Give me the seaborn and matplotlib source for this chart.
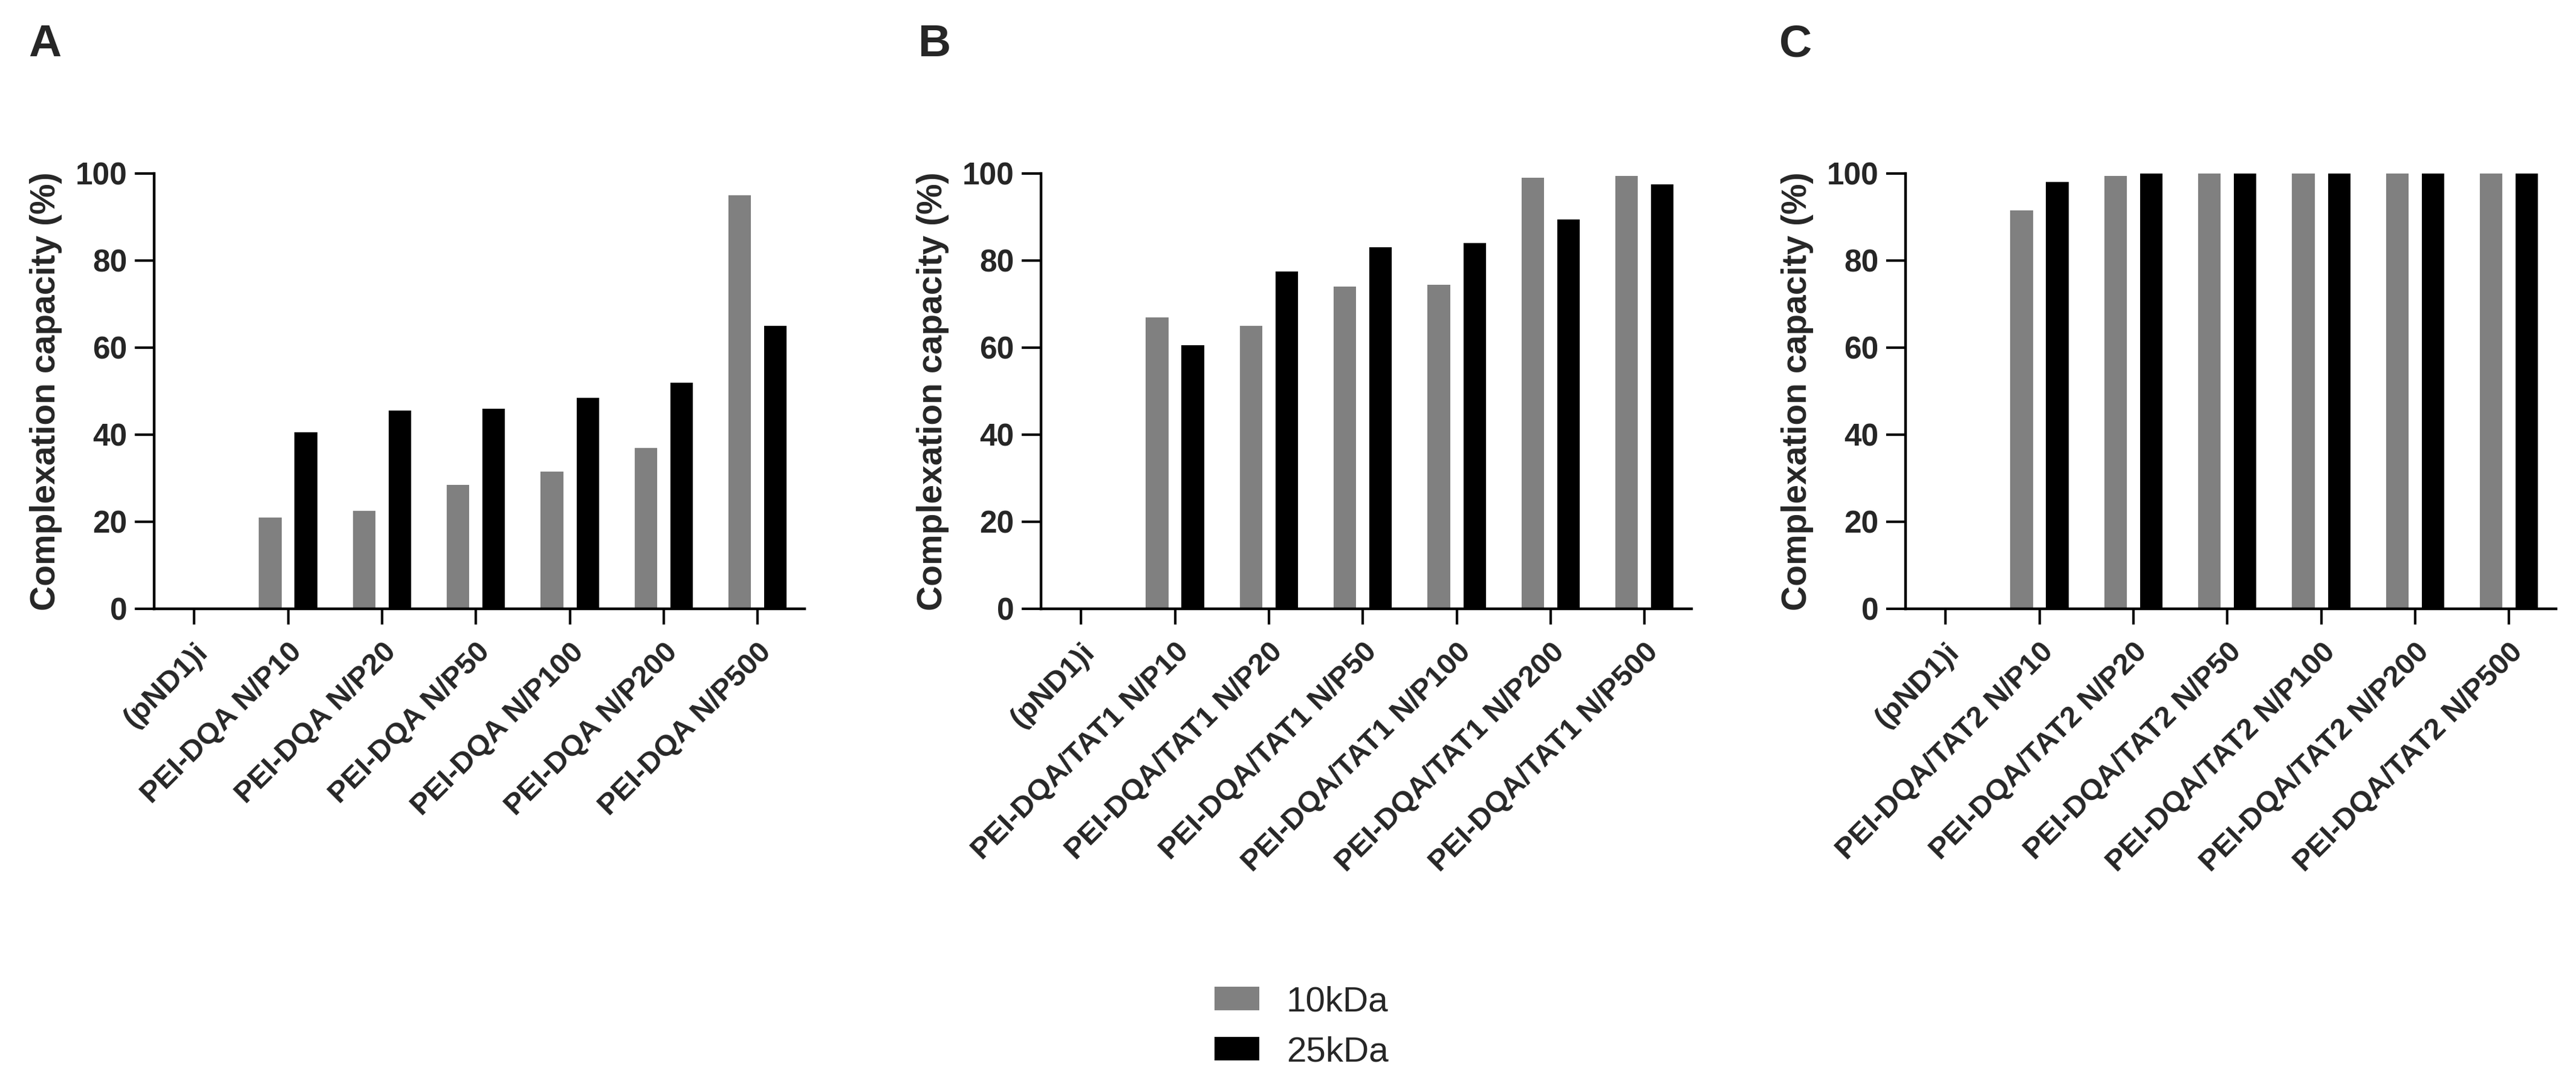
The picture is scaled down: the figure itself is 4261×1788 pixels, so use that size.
import numpy as np
import pandas as pd
import matplotlib

matplotlib.use("Agg")
import matplotlib.pyplot as plt
import seaborn as sns

# %% data
series = ["10kDa", "25kDa"]
palette = ["#808080", "#000000"]

cats_a = ["(pND1)i", "PEI-DQA N/P10", "PEI-DQA N/P20", "PEI-DQA N/P50",
          "PEI-DQA N/P100", "PEI-DQA N/P200", "PEI-DQA N/P500"]
a_10 = [0, 21, 22.5, 28.5, 31.5, 37, 95]
a_25 = [0, 40.5, 45.5, 46, 48.5, 52, 65]

cats_b = ["(pND1)i", "PEI-DQA/TAT1 N/P10", "PEI-DQA/TAT1 N/P20", "PEI-DQA/TAT1 N/P50",
          "PEI-DQA/TAT1 N/P100", "PEI-DQA/TAT1 N/P200", "PEI-DQA/TAT1 N/P500"]
b_10 = [0, 67, 65, 74, 74.5, 99, 99.5]
b_25 = [0, 60.5, 77.5, 83, 84, 89.5, 97.5]

cats_c = ["(pND1)i", "PEI-DQA/TAT2 N/P10", "PEI-DQA/TAT2 N/P20", "PEI-DQA/TAT2 N/P50",
          "PEI-DQA/TAT2 N/P100", "PEI-DQA/TAT2 N/P200", "PEI-DQA/TAT2 N/P500"]
c_10 = [0, 91.5, 99.5, 100, 100, 100, 100]
c_25 = [0, 98, 100, 100, 100, 100, 100]

panels = [("A", cats_a, a_10, a_25), ("B", cats_b, b_10, b_25), ("C", cats_c, c_10, c_25)]


def montar_df(cats, v10, v25):
    return pd.DataFrame({
        "grupo": cats + cats,
        "serie": [series[0]] * len(cats) + [series[1]] * len(cats),
        "valor": v10 + v25,
    })


# %% figure
sns.set_style("white")
plt.rcParams["font.family"] = ["Liberation Sans", "DejaVu Sans"]

W, H = 4261, 1788
fig = plt.figure(figsize=(W / 200, H / 200), dpi=200)

ax_left = [255, 1722, 3152]
letter_x = [47, 1519, 2943]
ax_w = 1076
bottom = 1 - 1007 / H
height = (1007 - 287) / H

handles = None
for i, (letra, cats, v10, v25) in enumerate(panels):
    ax = fig.add_axes([ax_left[i] / W, bottom, ax_w / W, height])
    df = montar_df(cats, v10, v25)
    sns.barplot(data=df, x="grupo", y="valor", hue="serie", order=cats,
                hue_order=series, palette=palette, width=0.76, gap=0.37,
                errorbar=None, saturation=1, linewidth=0, ax=ax)
    if ax.get_legend() is not None:
        handles, _ = ax.get_legend_handles_labels()
        ax.get_legend().remove()

    ax.set_xlim(-0.426, 6.5)
    ax.set_ylim(0, 100)
    ax.set_yticks([0, 20, 40, 60, 80, 100])
    ax.set_xticks(range(len(cats)))
    ax.set_xticklabels(cats, rotation=45, ha="right", va="top",
                       rotation_mode="anchor", fontweight="bold", fontsize=17.8)
    for lab in ax.get_yticklabels():
        lab.set_fontweight("bold")
    ax.tick_params(axis="y", length=11.5, width=1.5, labelsize=18.5, pad=4.5,
                   color="black", direction="out", left=True)
    ax.tick_params(axis="x", length=9.5, width=1.5, pad=8, color="black",
                   direction="out", bottom=True)
    for s in ["top", "right"]:
        ax.spines[s].set_visible(False)
    for s in ["left", "bottom"]:
        ax.spines[s].set_linewidth(1.6)
        ax.spines[s].set_color("black")
    ax.set_xlabel("")
    ax.set_ylabel("Complexation capacity (%)", fontsize=20.5, fontweight="bold",
                  labelpad=8)
    fig.text(letter_x[i] / W, 1 - 39 / H, letra, fontsize=27, fontweight="bold",
             ha="left", va="top")

fig.legend(handles, series, loc="center left", bbox_to_anchor=(2009 / W, 0.05),
           frameon=False, fontsize=21, handlelength=1.26, handleheight=0.64,
           handletextpad=0.78, labelspacing=0.5, borderpad=0, borderaxespad=0)

fig.savefig("out.png", dpi=200)
